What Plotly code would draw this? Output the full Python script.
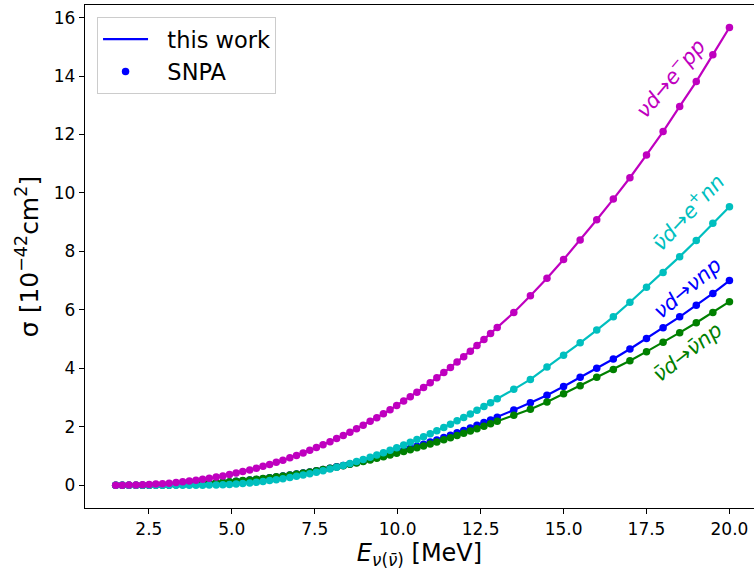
import plotly.graph_objects as go

# Neutrino energy grid [MeV]
energy = [1.50, 1.70, 1.90, 2.11, 2.31, 2.51, 2.71, 2.91, 3.11, 3.32, 3.52, 3.72, 3.92, 4.12, 4.32,
          4.53, 4.73, 4.93, 5.13, 5.33, 5.54, 5.74, 5.94, 6.14, 6.34, 6.54, 6.75, 6.95, 7.15, 7.35,
          7.55, 7.75, 7.96, 8.16, 8.36, 8.56, 8.76, 8.96, 9.17, 9.37, 9.57, 9.77, 9.97, 10.18, 10.38,
          10.58, 10.78, 10.98, 11.18, 11.39, 11.59, 11.79, 11.99, 12.19, 12.39, 12.60, 12.80, 13.00,
          13.5, 14.0, 14.5, 15.0, 15.5, 16.0, 16.5, 17.0, 17.5, 18.0, 18.5, 19.0, 19.5, 20.0]

# cross sections [1e-42 cm^2]
sigma_nc_nu = [0, 0, 0, 0,
               0.000, 0.001, 0.003, 0.006, 0.010, 0.015, 0.022, 0.030, 0.040, 0.051,
               0.064, 0.079, 0.094, 0.112, 0.131, 0.151, 0.174, 0.198, 0.224, 0.251,
               0.281, 0.311, 0.346, 0.380, 0.416, 0.454, 0.494, 0.536, 0.582, 0.628,
               0.675, 0.724, 0.776, 0.829, 0.886, 0.944, 1.003, 1.063, 1.126, 1.195,
               1.261, 1.331, 1.402, 1.474, 1.550, 1.631, 1.711, 1.791, 1.874, 1.960,
               2.048, 2.143, 2.234, 2.328,
               2.57, 2.82, 3.08, 3.38, 3.69, 4.00, 4.32, 4.66, 5.02, 5.39, 5.76, 6.16, 6.56, 7.00]

sigma_nc_nubar = [0, 0, 0, 0,
                  0.000, 0.001, 0.003, 0.007, 0.011, 0.018, 0.025, 0.034, 0.044, 0.056,
                  0.069, 0.085, 0.101, 0.119, 0.138, 0.159, 0.182, 0.206, 0.231, 0.258,
                  0.287, 0.317, 0.351, 0.384, 0.419, 0.456, 0.494, 0.534, 0.579, 0.622,
                  0.667, 0.713, 0.762, 0.811, 0.866, 0.918, 0.974, 1.030, 1.090, 1.153,
                  1.214, 1.279, 1.343, 1.410, 1.480, 1.554, 1.626, 1.700, 1.775, 1.853,
                  1.933, 2.018, 2.100, 2.186,
                  2.39, 2.60, 2.85, 3.13, 3.40, 3.69, 3.96, 4.26, 4.57, 4.89, 5.22, 5.56, 5.91, 6.28]

sigma_cc_nubar = [0, 0, 0, 0, 0, 0, 0, 0, 0, 0, 0, 0, 0,
                  0.000, 0.003, 0.008, 0.017, 0.028, 0.042, 0.059, 0.079, 0.102, 0.128,
                  0.157, 0.188, 0.223, 0.262, 0.303, 0.346, 0.393, 0.442, 0.495, 0.553,
                  0.612, 0.674, 0.739, 0.807, 0.877, 0.955, 1.031, 1.112, 1.195, 1.280,
                  1.374, 1.467, 1.560, 1.660, 1.761, 1.866, 1.978, 2.088, 2.201, 2.319,
                  2.440, 2.562, 2.694, 2.824, 2.956,
                  3.28, 3.62, 4.04, 4.45, 4.87, 5.31, 5.76, 6.26, 6.77, 7.28, 7.82, 8.37, 8.96, 9.53]

sigma_cc_nu = [0.000, 0.001, 0.004, 0.009, 0.016, 0.026, 0.038, 0.052, 0.069, 0.091,
               0.114, 0.140, 0.169, 0.201, 0.237, 0.277, 0.319, 0.365, 0.414, 0.465,
               0.524, 0.583, 0.646, 0.712, 0.783, 0.856, 0.938, 1.019, 1.104, 1.194,
               1.287, 1.383, 1.489, 1.594, 1.702, 1.815, 1.931, 2.052, 2.184, 2.312,
               2.445, 2.583, 2.724, 2.878, 3.028, 3.184, 3.343, 3.504, 3.673, 3.854,
               4.031, 4.212, 4.397, 4.586, 4.783, 4.988, 5.191, 5.398,
               5.91, 6.48, 7.08, 7.72, 8.39, 9.08, 9.79, 10.52, 11.30, 12.10, 12.96, 13.81, 14.73, 15.66]

labels = ["<i>νd</i>→<i>νnp</i>",
          "<i>ν\u0304d</i>→<i>ν\u0304np</i>",
          "<i>ν\u0304d</i>→<i>e</i><sup>+</sup><i>nn</i>",
          "<i>νd</i>→<i>e</i><sup>−</sup><i>pp</i>"]
series = [sigma_nc_nu, sigma_nc_nubar, sigma_cc_nubar, sigma_cc_nu]
colors = ["#0000ff", "#008000", "#00bfbf", "#bf00bf"]
label_pos = [(0.901, 0.437, -40), (0.901, 0.310, -38), (0.901, 0.590, -47), (0.874, 0.857, -50)]

FONT = "DejaVu Sans"
fig = go.Figure()
for i, (ys, col) in enumerate(zip(series, colors)):
    fig.add_trace(go.Scatter(x=energy, y=ys, mode="lines", line=dict(color=col, width=2.2),
                             name="\u00a0\u00a0this work", showlegend=(i == 0)))
    fig.add_trace(go.Scatter(x=energy, y=ys, mode="markers", marker=dict(color=col, size=7.5),
                             name="\u00a0\u00a0SNPA", showlegend=(i == 0)))

for lab, col, (px, py, ang) in zip(labels, colors, label_pos):
    fig.add_annotation(x=px, y=py, xref="paper", yref="paper", text=lab, showarrow=False,
                       xanchor="center", yanchor="middle",
                       textangle=ang, font=dict(family=FONT, size=21, color=col))

axis_common = dict(showline=True, linecolor="black", linewidth=1.3, ticks="outside", ticklen=5,
                   tickwidth=1.3, tickcolor="black", showgrid=False, zeroline=False,
                   automargin=False,
                   tickfont=dict(family=FONT, size=17, color="black"))

fig.update_xaxes(range=[0.575, 20.74], tickvals=[2.5, 5, 7.5, 10, 12.5, 15, 17.5, 20],
                 tickformat=".1f", mirror=True,
                 title=dict(text="<i>E</i><sub><i>ν</i>(<i>ν\u0304</i>)</sub> [MeV]",
                            font=dict(family=FONT, size=24, color="black"), standoff=4),
                 **axis_common)
fig.update_yaxes(range=[-0.78, 16.43], tickvals=[0, 2, 4, 6, 8, 10, 12, 14, 16],
                 title=dict(text="σ [10<sup>−42</sup>cm<sup>2</sup>]",
                            font=dict(family=FONT, size=25, color="black"), standoff=8),
                 **axis_common)

fig.update_layout(width=754, height=573, margin=dict(l=85, r=0, t=5, b=65),
                  plot_bgcolor="white", paper_bgcolor="white",
                  font=dict(family=FONT, color="black"),
                  legend=dict(x=0.018, y=0.976, xanchor="left", yanchor="top",
                              bgcolor="rgba(255,255,255,0.8)", bordercolor="#cccccc", borderwidth=1,
                              font=dict(family=FONT, size=22.5, color="black"), itemwidth=45,
                              tracegroupgap=0))

fig.write_html("out.html", config={"displayModeBar": False},
               post_script="document.body.style.margin='0px';document.body.style.overflow='hidden';")
